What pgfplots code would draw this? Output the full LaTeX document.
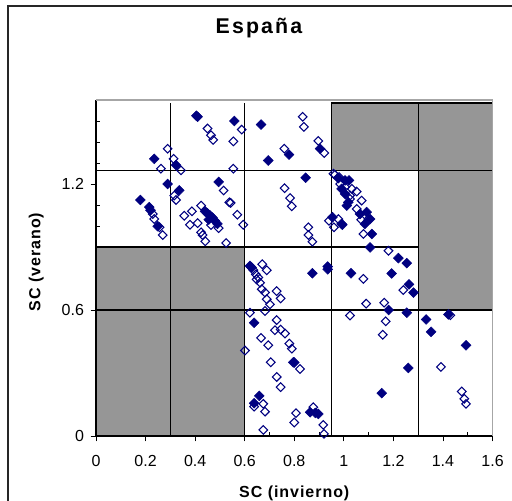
\documentclass[border=0pt]{standalone}
\usepackage{fontspec}
\setmainfont{Liberation Sans}
\usepackage{pgfplots}
\pgfplotsset{compat=1.18}
\definecolor{navy}{RGB}{0,0,128}
\definecolor{blockgray}{RGB}{150,150,150}

\begin{document}
\begin{tikzpicture}[x=0.75pt,y=0.75pt]
\path[use as bounding box] (0,0) rectangle (512,501);
\clip (0,0) rectangle (512,501);
\draw[black!85, line width=0.8pt] (8,495) rectangle (540,-40);
\begin{axis}[
    at={(72pt,48.75pt)}, anchor=south west,
    scale only axis, width=297.4pt, height=252pt,
    xmin=0, xmax=1.6, ymin=0, ymax=1.6,
    axis lines=left, axis line style={-, black, line width=0.9pt},
    xtick={0,0.2,...,1.6}, minor xtick={0.1,0.3,...,1.5},
    ytick={0,0.6,1.2},
    minor ytick={0.1,0.2,0.3,0.4,0.5,0.7,0.8,0.9,1.0,1.1,1.3,1.4,1.5},
    tick align=outside, major tick length=4pt, minor tick length=-3pt,
    tick style={black, line width=0.6pt},
    /pgf/number format/assume math mode=true,
    ticklabel style={font=\fontsize{12}{14}\selectfont},
    xticklabel style={yshift=-7pt},
    yticklabel style={xshift=-1.5pt},
    title={España},
    title style={at={(axis description cs:0.411,1.19)}, anchor=center,
        font=\fontsize{16}{19}\bfseries\addfontfeature{LetterSpace=10}},
    xlabel={SC (invierno)},
    xlabel style={at={(axis description cs:0.5,-0.172)}, anchor=center,
        font=\fontsize{12}{14}\bfseries\addfontfeature{LetterSpace=6}},
    ylabel={SC (verano)},
    ylabel style={at={(axis description cs:-0.151,0.518)}, anchor=center,
        font=\fontsize{12}{14}\bfseries\addfontfeature{LetterSpace=6}},
    clip=false,
]
% gray blocks
\addplot[fill=blockgray, draw=black, line width=1pt] coordinates {(0,0) (0.6,0) (0.6,0.9) (0,0.9)} -- cycle;
\addplot[fill=blockgray, draw=black, line width=1pt] coordinates {(0.95,1.265) (1.6,1.265) (1.6,1.585) (0.95,1.585)} -- cycle;
\addplot[fill=blockgray, draw=black, line width=1pt] coordinates {(1.3,0.6) (1.6,0.6) (1.6,1.265) (1.3,1.265)} -- cycle;
% partition lines
\addplot[black, line width=1pt] coordinates {(0.3,0) (0.3,1.585)};
\addplot[black, line width=1pt] coordinates {(0.6,0) (0.6,1.585)};
\addplot[black, line width=1pt] coordinates {(0.95,0) (0.95,1.585)};
\addplot[black, line width=1pt] coordinates {(1.3,0) (1.3,1.585)};
\addplot[black, line width=1pt] coordinates {(0,0.6) (1.6,0.6)};
\addplot[black, line width=1pt] coordinates {(0,0.9) (1.3,0.9)};
\addplot[black, line width=1pt] coordinates {(0,1.265) (1.6,1.265)};
% plot area border
\draw[gray!70, line width=0.8pt] (rel axis cs:0,1) -- (rel axis cs:1,1) -- (rel axis cs:1,0);
% open diamonds
\addplot[only marks, mark=square, mark size=2.3pt,
    mark options={rotate=45, draw=navy, line width=0.8pt}] coordinates {
(0.45,1.464) (0.464,1.432) (0.473,1.41) (0.289,1.368) (0.313,1.32) (0.262,1.273)
(0.343,1.265) (0.316,1.145) (0.323,1.124) (0.515,1.169) (0.538,1.113) (0.229,1.057)
(0.235,1.033) (0.256,0.994) (0.269,0.957) (0.356,1.049) (0.387,1.07) (0.379,1.006)
(0.41,1.014) (0.424,1.097) (0.424,0.97) (0.43,0.957) (0.441,0.927) (0.464,1.005)
(0.495,0.99) (0.525,0.919) (0.588,1.459) (0.554,1.403) (0.554,1.273) (0.57,1.054)
(0.543,1.11) (0.594,1.006)
(0.76,1.368) (0.834,1.52) (0.839,1.472) (0.897,1.405) (0.921,1.348) (0.761,1.18)
(0.783,1.133) (0.79,1.094) (0.857,0.994) (0.857,0.957) (0.873,0.925)
(0.958,1.249) (0.964,1.244) (0.981,1.233) (0.985,1.20) (1.005,1.185) (1.032,1.177)
(1.025,1.145) (1.052,1.164) (1.072,1.121) (1.025,1.129) (1.052,1.081) (1.099,1.033)
(1.079,0.962) (0.94,1.025) (0.978,1.033) (0.96,0.994) (1.07,1.03)
(1.18,0.882) (1.079,0.748) (1.24,0.695) (1.09,0.63) (1.163,0.635) (1.025,0.574)
(1.169,0.546) (1.157,0.482) (1.392,0.329) (1.476,0.212) (1.486,0.177) (1.493,0.153)
(1.43,0.575)
(0.671,0.818) (0.689,0.789) (0.648,0.746) (0.662,0.73) (0.669,0.699) (0.682,0.683)
(0.689,0.651) (0.702,0.627) (0.729,0.69) (0.745,0.655) (0.621,0.587) (0.682,0.595)
(0.729,0.552) (0.722,0.504) (0.745,0.507) (0.763,0.488) (0.666,0.467) (0.695,0.432)
(0.78,0.44) (0.79,0.416) (0.823,0.319) (0.705,0.351) (0.729,0.281) (0.745,0.233)
(0.638,0.14) (0.675,0.153) (0.682,0.116) (0.675,0.029) (0.601,0.407) (0.807,0.109)
(0.80,0.064) (0.877,0.137) (0.917,0.053) (0.92,0.01)
(0.625,0.805) (0.635,0.79) (0.645,0.77) (0.655,0.755)
};
% filled diamonds
\addplot[only marks, mark=square*, mark size=2.6pt,
    mark options={rotate=45, draw=navy, fill=navy}] coordinates {
(0.41,1.52) (0.405,1.525) (0.235,1.32) (0.323,1.29) (0.289,1.20) (0.336,1.17)
(0.179,1.124) (0.215,1.09) (0.22,1.075) (0.249,0.999) (0.495,1.21)
(0.44,1.07) (0.45,1.06) (0.46,1.05) (0.47,1.04) (0.48,1.025) (0.49,1.01) (0.455,1.03)
(0.558,1.50) (0.666,1.483) (0.695,1.312) (0.779,1.34) (0.904,1.368) (0.846,1.23)
(0.978,1.228) (1.005,1.217) (1.021,1.217) (0.991,1.177) (1.005,1.153) (1.018,1.113)
(1.012,1.097) (1.065,1.057) (1.092,1.066) (1.085,1.01) (1.106,1.033) (1.113,0.962)
(0.954,1.042) (0.994,1.006) (0.991,1.01)
(1.106,0.898) (1.22,0.847) (1.254,0.823) (1.193,0.774) (1.029,0.775) (1.263,0.722)
(1.281,0.683) (1.181,0.60) (1.254,0.587) (1.332,0.555) (1.352,0.496) (1.493,0.432)
(1.26,0.324) (1.153,0.204) (1.422,0.579)
(0.621,0.81) (0.628,0.802) (0.935,0.807) (0.873,0.775) (0.935,0.794) (0.638,0.539)
(0.796,0.351) (0.80,0.35) (0.659,0.191) (0.638,0.156) (0.864,0.113) (0.897,0.105)
(0.885,0.11)
};
\end{axis}
\end{tikzpicture}
\end{document}
